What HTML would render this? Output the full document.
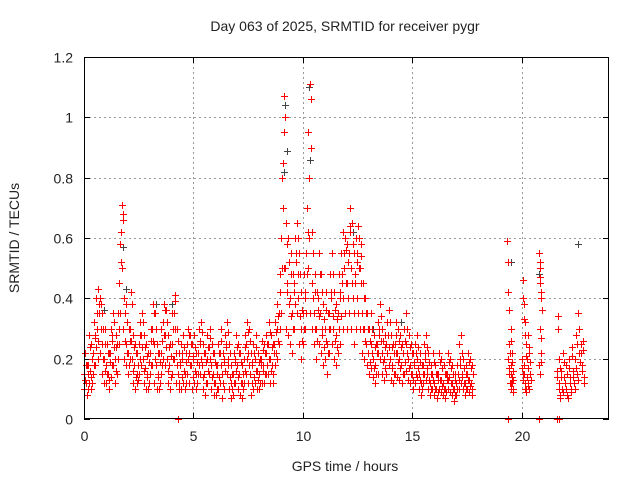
<!DOCTYPE html>
<html><head><meta charset="utf-8"><style>
body{margin:0;background:#fff}
svg text{font-family:"Liberation Sans",sans-serif;fill:#222}
</style></head><body>
<svg id="chart" width="640" height="480" viewBox="0 0 640 480" xmlns="http://www.w3.org/2000/svg">
<rect width="640" height="480" fill="#fff"/>
<text x="345" y="31" font-size="14" text-anchor="middle">Day 063 of 2025, SRMTID for receiver pygr</text>
<text x="345" y="471" font-size="14" text-anchor="middle">GPS time / hours</text>
<text transform="translate(19,238) rotate(-90)" font-size="14" text-anchor="middle">SRMTID / TECUs</text>
<g id="grid"></g><g id="ticks"></g><g id="marks"></g>
<rect x="84.5" y="57.5" width="524" height="361" fill="none" stroke="#000" stroke-width="1"/>
</svg>
<script>
const xTicks=[0,5,10,15,20];
const yTicks=[0,0.2,0.4,0.6,0.8,1,1.2];
const yTickLabels=["0","0.2","0.4","0.6","0.8","1","1.2"];
const stepHours=0.1;
const seriesMid=[.15,.12,.18,.14,.22,.28,.30,.35,.25,.20,.18,.15,.22,.28,.20,.25,.45,.62,.30,.25,.22,.30,.20,.18,.15,.25,.28,.20,.17,.15,.22,.30,.25,.18,.15,.22,.32,.28,.20,.18,.25,.35,.22,.15,.18,.20,.15,.25,.22,.18,.20,.15,.22,.25,.18,.15,.20,.24,.18,.15,.12,.18,.22,.15,.20,.25,.18,.12,.15,.20,.18,.15,.12,.20,.25,.22,.15,.18,.20,.16,.15,.20,.18,.22,.25,.20,.18,.25,.30,.35,.60,.85,.50,.45,.40,.35,.45,.55,.40,.30,.35,.40,.70,.60,.45,.35,.30,.40,.35,.28,.30,.25,.35,.40,.30,.28,.35,.40,.45,.50,.45,.55,.50,.40,.45,.55,.50,.35,.30,.25,.22,.25,.20,.18,.25,.30,.22,.20,.25,.28,.20,.18,.25,.22,.20,.18,.22,.25,.20,.18,.15,.18,.20,.15,.12,.18,.20,.15,.12,.15,.12,.10,.15,.13,.12,.10,.15,.14,.12,.10,.12,.15,.18,.14,.12,.15,.13,.12];
const seriesLow=[.10,.08,.12,.10,.15,.18,.20,.22,.15,.12,.12,.10,.14,.18,.12,.15,.25,.50,.20,.18,.15,.20,.12,.10,.12,.15,.18,.12,.10,.10,.15,.18,.12,.10,.10,.15,.20,.18,.12,.10,.15,.20,.12,.10,.10,.12,.10,.15,.12,.10,.12,.10,.15,.15,.10,.08,.12,.15,.10,.08,.08,.10,.12,.07,.10,.15,.10,.07,.08,.12,.10,.08,.07,.12,.15,.12,.08,.10,.12,.10,.10,.12,.12,.15,.15,.12,.12,.18,.20,.25,.35,.50,.30,.28,.25,.22,.30,.35,.25,.20,.25,.30,.50,.35,.30,.25,.20,.25,.22,.18,.20,.15,.22,.25,.20,.18,.22,.25,.30,.35,.30,.35,.30,.25,.30,.35,.30,.22,.20,.18,.15,.17,.14,.12,.15,.20,.15,.13,.15,.18,.13,.12,.15,.14,.13,.12,.15,.16,.13,.12,.10,.12,.14,.10,.08,.12,.13,.10,.08,.10,.08,.07,.10,.09,.08,.07,.10,.09,.08,.06,.08,.10,.12,.10,.08,.10,.09,.08];
const seriesHigh=[.22,.18,.28,.25,.32,.40,.43,.40,.35,.30,.25,.22,.30,.35,.28,.35,.58,.71,.40,.38,.30,.42,.28,.25,.22,.32,.35,.28,.25,.22,.30,.38,.35,.25,.22,.30,.38,.36,.28,.25,.35,.41,.30,.22,.25,.28,.22,.30,.28,.25,.28,.22,.30,.32,.25,.22,.28,.30,.25,.22,.18,.25,.30,.22,.28,.32,.25,.18,.22,.28,.25,.22,.18,.28,.32,.30,.22,.25,.28,.22,.20,.26,.25,.28,.32,.28,.25,.32,.38,.48,.80,1.07,.65,.60,.55,.48,.60,.65,.55,.42,.48,.55,.95,1.11,.62,.48,.42,.55,.48,.38,.42,.35,.48,.55,.42,.38,.48,.55,.62,.60,.58,.70,.65,.55,.60,.64,.58,.45,.40,.35,.30,.35,.28,.25,.32,.38,.30,.28,.32,.36,.28,.25,.32,.30,.28,.25,.30,.35,.28,.25,.22,.25,.28,.22,.18,.25,.28,.22,.18,.22,.18,.15,.22,.20,.18,.15,.22,.20,.18,.15,.18,.25,.28,.20,.18,.22,.20,.18];
const seriesMid2=[.13,.10,.16,.12,.18,.24,.26,.30,.20,.16,.15,.13,.18,.24,.16,.20,.35,.68,.26,.22,.18,.26,.16,.14,.13,.20,.24,.16,.14,.12,.18,.26,.20,.14,.12,.18,.28,.24,.16,.14,.20,.30,.18,.12,.14,.16,.12,.20,.18,.14,.16,.12,.18,.20,.14,.12,.16,.20,.14,.12,.10,.14,.18,.12,.16,.20,.14,.10,.12,.16,.14,.12,.10,.16,.20,.18,.12,.14,.16,.13,.12,.16,.15,.18,.20,.16,.15,.22,.26,.30,.50,.95,.42,.38,.34,.30,.38,.48,.34,.26,.30,.35,.62,1.06,.40,.30,.26,.34,.30,.24,.26,.22,.30,.34,.26,.24,.30,.34,.40,.45,.40,.62,.45,.35,.40,.50,.45,.30,.26,.22,.19,.22,.17,.15,.22,.26,.19,.17,.22,.24,.17,.15,.22,.19,.17,.15,.19,.22,.17,.15,.13,.15,.17,.13,.10,.15,.17,.13,.10,.13,.10,.09,.13,.11,.10,.09,.13,.12,.10,.08,.10,.13,.15,.12,.10,.13,.11,.10];
const seriesMid3=[.18,.15,.24,.20,.27,.35,.38,.38,.30,.25,.22,.19,.26,.32,.24,.30,.52,.66,.35,.32,.26,.38,.24,.22,.18,.28,.32,.24,.21,.19,.26,.35,.30,.22,.19,.26,.36,.32,.24,.21,.30,.39,.26,.19,.22,.24,.19,.28,.25,.21,.24,.19,.26,.29,.22,.19,.24,.27,.22,.19,.15,.22,.26,.19,.24,.29,.22,.15,.19,.24,.22,.19,.15,.24,.29,.26,.19,.22,.24,.19,.18,.23,.22,.25,.29,.24,.22,.29,.34,.42,.70,1.00,.58,.52,.48,.42,.52,.60,.48,.36,.42,.48,.80,.90,.55,.42,.36,.48,.42,.33,.36,.30,.42,.48,.36,.33,.42,.48,.55,.56,.52,.64,.58,.48,.52,.60,.54,.40,.35,.30,.26,.30,.24,.22,.28,.34,.26,.24,.28,.32,.24,.22,.28,.26,.24,.22,.26,.30,.24,.22,.19,.22,.24,.19,.15,.22,.24,.19,.15,.19,.15,.13,.19,.17,.15,.13,.19,.17,.15,.13,.15,.20,.22,.17,.15,.19,.17,.15];
const lateT=[19.35,19.4,19.4,19.45,19.45,19.5,19.5,19.5,19.55,19.55,19.6,19.6,20.0,20.05,20.05,20.1,20.1,20.15,20.15,20.2,20.2,20.25,20.25,20.3,20.3,20.35,20.4,20.8,20.82,20.84,20.85,20.86,20.88,20.9,21.6,21.65,21.7,21.72,21.75,21.8,21.85,21.9,21.95,22.0,22.05,22.1,22.15,22.2,22.25,22.3,22.35,22.4,22.45,22.5,22.55,22.6,22.65,22.7,22.75,22.8,22.85];
const lateY=[.59,.42,.20,.25,.15,.30,.12,.18,.22,.14,.16,.10,.20,.46,.15,.38,.18,.32,.12,.25,.10,.20,.14,.28,.11,.22,.15,.18,.55,.50,.45,.30,.22,.40,.16,.34,.12,.20,.08,.16,.10,.22,.14,.12,.18,.08,.20,.14,.10,.24,.16,.12,.20,.28,.15,.35,.22,.25,.18,.26,.14];
const lateY2=[.52,.36,.17,.22,.12,.26,.10,.15,.19,.12,.13,.09,.17,.40,.13,.33,.15,.28,.10,.21,.09,.17,.12,.24,.10,.19,.13,.15,.52,.47,.42,.27,.19,.36,.14,.30,.10,.17,.07,.14,.09,.19,.12,.10,.15,.07,.17,.12,.09,.21,.14,.10,.17,.25,.13,.30,.19,.22,.16,.23,.12];
const zeroT=[4.3,19.4,20.8,21.6,21.7];
const greyT=[9.15,9.2,9.3,10.3,10.32,1.8,22.6,19.5,20.8,12.3,4.0,3.3,1.9,0.9,13.2,14.5];
const greyY=[0.82,1.04,0.89,1.10,0.86,0.57,0.58,0.52,0.48,0.62,0.38,0.38,0.43,0.36,0.30,0.32];

const NS="http://www.w3.org/2000/svg";
const X0=84,X1=609,Y0=419,Y1=57;
function xs(t){return X0+(t/24)*(X1-X0);}
function ys(v){return Y0-(v/1.2)*(Y0-Y1);}
const grid=document.getElementById('grid'),ticks=document.getElementById('ticks'),marks=document.getElementById('marks');
function mk(tag,attrs,parent){const e=document.createElementNS(NS,tag);for(const k in attrs)e.setAttribute(k,attrs[k]);parent.appendChild(e);return e;}
xTicks.forEach(t=>{
  const x=Math.round(xs(t))+0.5;
  if(t>0){const g=mk('line',{x1:x,x2:x,y1:Y1,y2:Y0,stroke:'#999','stroke-dasharray':'2,3'},grid);
  
  }
  mk('line',{x1:x,x2:x,y1:Y0,y2:Y0-6,stroke:'#000'},ticks);
  mk('line',{x1:x,x2:x,y1:Y1,y2:Y1+6,stroke:'#000'},ticks);
  const l=mk('text',{x:x,y:Y0+22,'font-size':14,'text-anchor':'middle'},ticks);l.textContent=t;
  
  
});
yTicks.forEach((v,i)=>{
  const y=Math.round(ys(v))+0.5;
  if(v>0&&v<1.2){const g=mk('line',{x1:X0,x2:X1,y1:y,y2:y,stroke:'#999','stroke-dasharray':'2,3'},grid);
  
  }
  mk('line',{x1:X0,x2:X0+6,y1:y,y2:y,stroke:'#000'},ticks);
  mk('line',{x1:X1,x2:X1-6,y1:y,y2:y,stroke:'#000'},ticks);
  const l=mk('text',{x:X0-11,y:y+5,'font-size':14,'text-anchor':'end'},ticks);l.textContent=yTickLabels[i];
  
  
});
let dr='',dg='';
function plus(t,v){const x=Math.round(xs(t))+0.5,y=Math.round(ys(v))+0.5;return 'M'+(x-3.5)+' '+y+'h7M'+x+' '+(y-3.5)+'v7';}
greyT.forEach((t,i)=>{dg+=plus(t,greyY[i]);});
[[seriesMid,0],[seriesLow,0.02],[seriesHigh,0.04],[seriesMid2,0.06],[seriesMid3,0.08]].forEach(([arr,off])=>{
  arr.forEach((v,i)=>{dr+=plus(i*stepHours+off,v);});
});
lateT.forEach((t,i)=>{if(i<lateY.length)dr+=plus(t,lateY[i]);});
lateT.forEach((t,i)=>{if(i<lateY2.length)dr+=plus(t+0.025,lateY2[i]);});
zeroT.forEach(t=>{dr+=plus(t,0);});
const pg=mk('path',{d:dg,stroke:'#444','stroke-width':1,fill:'none','shape-rendering':'crispEdges'},marks);


const pr=mk('path',{d:dr,stroke:'#ff0000','stroke-width':1,fill:'none','shape-rendering':'crispEdges'},marks);


</script>
</body></html>
